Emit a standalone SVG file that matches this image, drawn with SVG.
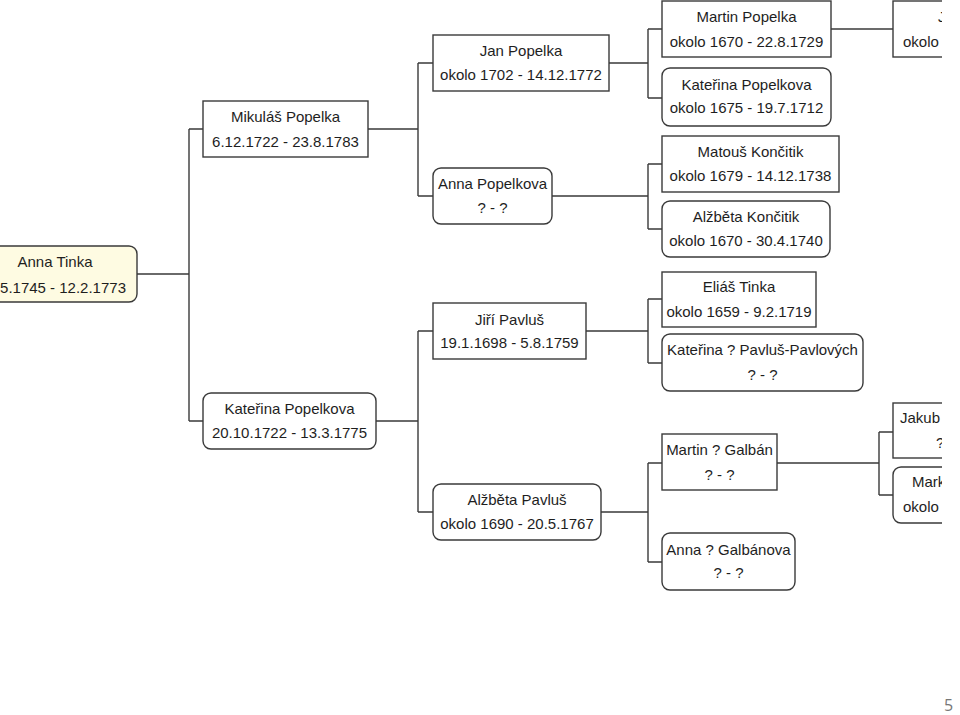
<svg xmlns="http://www.w3.org/2000/svg" width="960" height="715" viewBox="0 0 960 715">
<defs>
<style>
.bx{fill:#ffffff;stroke:#3a3a3a;stroke-width:1.4}
.root{fill:#fefbe2;stroke:#3a3a3a;stroke-width:1.4}
.t{font-family:"Liberation Sans",Arial,sans-serif;font-size:15px;fill:#1e1e1e;text-anchor:middle}
.ts{font-family:"Liberation Sans",Arial,sans-serif;font-size:15px;fill:#1e1e1e;text-anchor:start}
.te{font-family:"Liberation Sans",Arial,sans-serif;font-size:15px;fill:#1e1e1e;text-anchor:end}
.c{fill:none;stroke:#3a3a3a;stroke-width:1.4}
.pg{font-family:"Open Sans","Liberation Sans",sans-serif;font-size:16px;fill:#777777}
</style>
<clipPath id="cut"><rect x="0" y="0" width="942" height="715"/></clipPath>
</defs>
<rect x="0" y="0" width="960" height="715" fill="#ffffff"/>

<g id="connectors">
<path class="c" d="M137,274 H189 M189,129 V421 M189,129 H203 M189,421 H203"/>
<path class="c" d="M368,129 H418 M418,63 V196 M418,63 H433 M418,196 H433"/>
<path class="c" d="M376,421 H418 M418,331 V512 M418,331 H433 M418,512 H433"/>
<path class="c" d="M609,63 H648 M648,29 V98 M648,29 H662 M648,98 H662"/>
<path class="c" d="M552,196 H648 M648,164 V229 M648,164 H662 M648,229 H662"/>
<path class="c" d="M586,331 H648 M648,299 V363 M648,299 H662 M648,363 H662"/>
<path class="c" d="M601,512 H648 M648,463 V562 M648,463 H662 M648,562 H662"/>
<path class="c" d="M831,29 H893"/>
<path class="c" d="M777,463 H879 M879,432 V495 M879,432 H893 M879,495 H893"/>
</g>

<g id="n-anna-tinka">
<rect class="root" x="-27" y="246" width="164" height="56" rx="8"/>
<text class="t" x="55" y="267">Anna Tinka</text>
<text class="te" x="126" y="293">5.1745 - 12.2.1773</text>
</g>
<g id="n-mikulas">
<rect class="bx" x="203" y="101" width="165" height="56"/>
<text class="t" x="285.5" y="122">Mikuláš Popelka</text>
<text class="t" x="285.5" y="147">6.12.1722 - 23.8.1783</text>
</g>
<g id="n-katerina-1">
<rect class="bx" x="203" y="393" width="173" height="56" rx="8"/>
<text class="t" x="289.5" y="414">Kateřina Popelkova</text>
<text class="t" x="289.5" y="438">20.10.1722 - 13.3.1775</text>
</g>
<g id="n-jan">
<rect class="bx" x="433" y="35" width="176" height="56"/>
<text class="t" x="521" y="56">Jan Popelka</text>
<text class="t" x="521" y="80">okolo 1702 - 14.12.1772</text>
</g>
<g id="n-anna-popelkova">
<rect class="bx" x="433" y="168" width="119" height="56" rx="8"/>
<text class="t" x="492.5" y="189">Anna Popelkova</text>
<text class="t" x="492.5" y="213">? - ?</text>
</g>
<g id="n-jiri">
<rect class="bx" x="433" y="303" width="153" height="56"/>
<text class="t" x="509.5" y="325">Jiří Pavluš</text>
<text class="t" x="509.5" y="348">19.1.1698 - 5.8.1759</text>
</g>
<g id="n-alzbeta-pavlus">
<rect class="bx" x="433" y="484" width="168" height="56" rx="8"/>
<text class="t" x="517" y="505">Alžběta Pavluš</text>
<text class="t" x="517" y="529">okolo 1690 - 20.5.1767</text>
</g>
<g id="n-martin-popelka">
<rect class="bx" x="662" y="1" width="169" height="56"/>
<text class="t" x="746.5" y="22">Martin Popelka</text>
<text class="t" x="746.5" y="47">okolo 1670 - 22.8.1729</text>
</g>
<g id="n-katerina-2">
<rect class="bx" x="662" y="68" width="169" height="58" rx="8"/>
<text class="t" x="746.5" y="90">Kateřina Popelkova</text>
<text class="t" x="746.5" y="113">okolo 1675 - 19.7.1712</text>
</g>
<g id="n-matous">
<rect class="bx" x="662" y="136" width="177" height="56"/>
<text class="t" x="750.5" y="157">Matouš Končitik</text>
<text class="t" x="750.5" y="181">okolo 1679 - 14.12.1738</text>
</g>
<g id="n-alzbeta-koncitik">
<rect class="bx" x="662" y="201" width="168" height="56" rx="8"/>
<text class="t" x="746" y="222">Alžběta Končitik</text>
<text class="t" x="746" y="246">okolo 1670 - 30.4.1740</text>
</g>
<g id="n-elias">
<rect class="bx" x="662" y="272" width="154" height="55"/>
<text class="t" x="739" y="292">Eliáš Tinka</text>
<text class="t" x="739" y="317">okolo 1659 - 9.2.1719</text>
</g>
<g id="n-katerina-3">
<rect class="bx" x="662" y="334" width="201" height="57" rx="8"/>
<text class="t" x="762.5" y="355">Kateřina ? Pavluš-Pavlových</text>
<text class="t" x="762.5" y="380">? - ?</text>
</g>
<g id="n-martin-galban">
<rect class="bx" x="662" y="434" width="115" height="56"/>
<text class="t" x="719.5" y="455">Martin ? Galbán</text>
<text class="t" x="719.5" y="480">? - ?</text>
</g>
<g id="n-anna-galbanova">
<rect class="bx" x="662" y="533" width="133" height="57" rx="8"/>
<text class="t" x="728.5" y="555">Anna ? Galbánova</text>
<text class="t" x="728.5" y="578">? - ?</text>
</g>

<g clip-path="url(#cut)">
<g id="n-right-top">
<rect class="bx" x="893" y="1" width="170" height="56"/>
<text class="ts" x="938" y="22">J</text>
<text class="ts" x="903" y="47">okolo</text>
</g>
<g id="n-jakub">
<rect class="bx" x="893" y="403" width="120" height="55"/>
<text class="ts" x="900" y="423">Jakub</text>
<text class="ts" x="936" y="448">?</text>
</g>
<g id="n-mark">
<rect class="bx" x="893" y="467" width="170" height="56" rx="8"/>
<text class="ts" x="912" y="487">Mark</text>
<text class="ts" x="903" y="512">okolo</text>
</g>
</g>

<text class="pg" x="944" y="711">5</text>
</svg>
